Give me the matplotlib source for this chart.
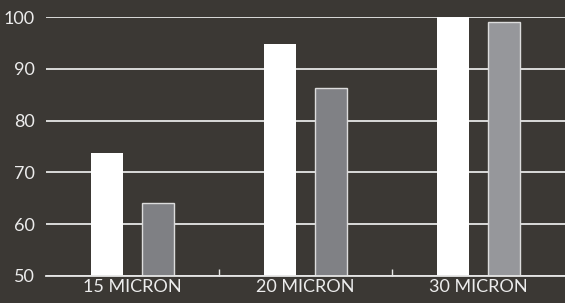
import numpy as np
import matplotlib.pyplot as plt
from matplotlib.ticker import FixedLocator

categories = ['15 MICRON', '20 MICRON', '30 MICRON']
series_white = [73.7, 94.8, 100.0]
series_grey = [64.1, 86.3, 99.0]
grey_colors = ['#7f8084', '#808185', '#96979b']
y_ticks = [50, 60, 70, 80, 90, 100]

bg = '#3b3834'
plt.rcParams['font.family'] = ['Lato', 'DejaVu Sans']

fig = plt.figure(figsize=(5.65, 3.03), dpi=100, facecolor=bg)
ax = fig.add_axes([46 / 565, 27 / 303, 519 / 565, 259 / 303])
ax.set_facecolor(bg)

x = np.arange(len(categories))
w = 0.185
off = 0.15

# grid first so bars cover it
for v in y_ticks:
    ax.axhline(v, color='#e6e6e6', lw=1.3, zorder=1)

ax.bar(x - off, series_white, w, color='white', zorder=3)
ax.bar(x + off, series_grey, w, color=grey_colors, edgecolor='#dcdcdc',
       linewidth=1.0, zorder=3)

ax.set_xlim(-0.5, 2.5)
ax.set_ylim(50, 100)
ax.set_yticks(y_ticks)
ax.set_xticks(x)
ax.set_xticklabels(categories)
ax.xaxis.set_minor_locator(FixedLocator([0.5, 1.5]))

for s in ['top', 'right', 'left']:
    ax.spines[s].set_visible(False)
ax.spines['bottom'].set_color('#e6e6e6')
ax.spines['bottom'].set_linewidth(1.3)
ax.spines['bottom'].set_zorder(4)

ax.tick_params(axis='y', length=0, pad=8, labelsize=13, labelcolor='#ececec')
ax.tick_params(axis='x', which='major', length=0, pad=2, labelsize=13,
               labelcolor='#ececec')
ax.tick_params(axis='x', which='minor', direction='in', length=5,
               color='#e6e6e6', width=1)

fig.savefig('out.png', dpi=100, facecolor=bg)
